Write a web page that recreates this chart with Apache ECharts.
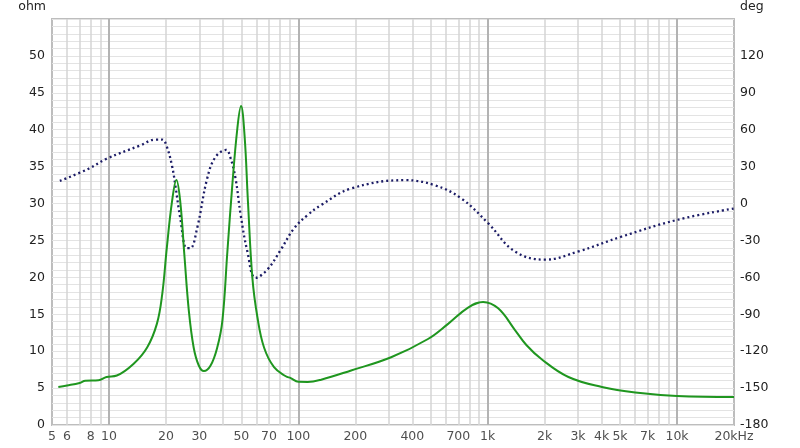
<!DOCTYPE html>
<html>
<head>
<meta charset="utf-8">
<script src="https://cdn.jsdelivr.net/npm/echarts@6/dist/echarts.min.js"></script>
<style>html,body{margin:0;padding:0;background:#fff}#c{width:800px;height:448px}</style>
</head>
<body>
<div id="c"></div>
<script>
// Impedance magnitude (ohm) vs frequency (Hz)
const impFreq = [5.4, 6.0, 7.0, 7.5, 8.8, 9.7, 11, 13.5, 15.9, 17.9, 19.1, 20.2, 21.5, 22.7, 23.8, 25, 26.4, 28, 29.8, 31.7, 34.4, 37.3, 39.7, 42.2, 44.8, 47.6, 49.8, 52, 54.2, 57.2, 60.8, 65.9, 74.4, 85.9, 91.2, 100, 112, 132, 190, 309, 484, 618, 788, 946, 1136, 1391, 1605, 1928, 2670, 4010, 6020, 10000, 20000];
const impOhm = [5.15, 5.35, 5.7, 6.0, 6.05, 6.5, 6.7, 8.3, 10.5, 13.7, 17.7, 24, 30.2, 33.2, 30.2, 23.1, 15.5, 10.5, 8.06, 7.3, 8.06, 10.5, 14.1, 23.5, 32.5, 40.1, 43.2, 39.2, 30.2, 19.9, 14.6, 10.5, 7.84, 6.6, 6.36, 5.85, 5.83, 6.14, 7.39, 9.18, 11.65, 13.7, 15.9, 16.67, 15.8, 12.9, 10.8, 8.9, 6.5, 5.15, 4.4, 3.94, 3.8];
// Phase (deg) vs frequency (Hz)
const phaseFreq = [5.5, 7.8, 9.7, 14.6, 17.6, 19.1, 20.1, 21.5, 22.4, 23.8, 25.7, 26.9, 29.2, 33, 36.5, 41.6, 43.7, 46.6, 49.6, 53.8, 59.5, 68.7, 80.8, 95, 112, 132, 190, 364, 525, 726, 1006, 1391, 2008, 3018, 5116, 10000, 20000];
const phaseDeg = [18.4, 28.3, 36.4, 47.2, 52, 52, 47.2, 31, 14.9, -12, -36.2, -36.2, -20.1, 20.3, 37.8, 43.6, 37.8, 20.3, -9.3, -38.9, -60.4, -53.6, -37.5, -20.1, -9.3, -1.2, 12.2, 19, 14.9, 4.1, -16, -38.9, -45.6, -38.9, -26.8, -13.3, -4];
// Axis ticks
const minorGridFreqs = [6, 7, 8, 9, 20, 30, 40, 50, 60, 70, 80, 90, 200, 300, 400, 500, 600, 700, 800, 900, 2000, 3000, 4000, 5000, 6000, 7000, 8000, 9000];
const majorGridFreqs = [10, 100, 1000, 10000];
const xTickFreqs = [5, 6, 8, 10, 20, 30, 50, 70, 100, 200, 400, 700, 1000, 2000, 3000, 4000, 5000, 7000, 10000, 20000];
const xTickLabels = ['5', '6', '8', '10', '20', '30', '50', '70', '100', '200', '400', '700', '1k', '2k', '3k', '4k', '5k', '7k', '10k', '20kHz'];

const FONT = 'DejaVu Sans';
const chart = echarts.init(document.getElementById('c'));
chart.setOption({
  animation: false,
  backgroundColor: '#fff',
  grid: { left: 52, right: 66, top: 17, bottom: 23, show: true, borderColor: '#bdbdbd', borderWidth: 2, backgroundColor: 'transparent' },
  xAxis: {
    type: 'log', logBase: 10, min: 5, max: 20000,
    axisLine: { show: false }, axisTick: { show: false }, axisLabel: { show: false }, splitLine: { show: false }
  },
  yAxis: [
    {
      type: 'value', min: 0, max: 55, interval: 5, position: 'left',
      name: 'ohm', nameLocation: 'end', nameGap: 6,
      nameTextStyle: { fontFamily: FONT, fontSize: 12.5, color: '#222', align: 'right', padding: [0, 6, 0, 0] },
      axisLine: { show: false }, axisTick: { show: false },
      axisLabel: { fontFamily: FONT, fontSize: 12.5, color: '#222', margin: 7, formatter: v => v === 55 ? '' : String(v) },
      splitLine: { show: true, lineStyle: { color: '#e3e3e3', width: 1 } },
      minorTick: { show: false, splitNumber: 5 },
      minorSplitLine: { show: true, lineStyle: { color: '#e3e3e3', width: 1 } }
    },
    {
      type: 'value', min: -180, max: 150, interval: 30, position: 'right',
      name: 'deg', nameLocation: 'end', nameGap: 6,
      nameTextStyle: { fontFamily: FONT, fontSize: 12.5, color: '#222', align: 'left', padding: [0, 0, 0, 6] },
      axisLine: { show: false }, axisTick: { show: false },
      axisLabel: { fontFamily: FONT, fontSize: 12.5, color: '#222', margin: 6, formatter: v => v === 150 ? '' : String(v) },
      splitLine: { show: false }
    }
  ],
  series: [
    {
      name: 'grid', type: 'line', data: [], z: 1, silent: true,
      markLine: {
        silent: true, symbol: 'none', z: 1, animation: false,
        label: { show: false },
        emphasis: { disabled: true },
        data: minorGridFreqs.map(f => ({ xAxis: f, lineStyle: { color: '#d5d5d5', width: 1.5, type: 'solid' } }))
          .concat(majorGridFreqs.map(f => ({ xAxis: f, lineStyle: { color: '#b3b3b3', width: 2, type: 'solid' } })))
      }
    },
    {
      name: 'xlabels', type: 'scatter', yAxisIndex: 0, z: 5, silent: true, clip: false,
      data: xTickFreqs.map((f, i) => ({ value: [f, 0], label: { formatter: xTickLabels[i] } })),
      symbolSize: 1,
      itemStyle: { color: 'rgba(0,0,0,0)' },
      label: { show: true, position: 'bottom', distance: 5, fontFamily: FONT, fontSize: 12.5, color: '#222' }
    },
    {
      name: 'Phase', type: 'line', yAxisIndex: 1, z: 3,
      data: phaseFreq.map((f, i) => [f, phaseDeg[i]]),
      smooth: 0.4, showSymbol: false, symbol: 'none',
      lineStyle: { color: '#1c1c66', width: 2.3, type: [2, 3], cap: 'butt' }
    },
    {
      name: 'Impedance', type: 'line', yAxisIndex: 0, z: 4,
      data: impFreq.map((f, i) => [f, impOhm[i]]),
      smooth: 0.4, showSymbol: false, symbol: 'none',
      lineStyle: { color: '#1f961f', width: 2 }
    }
  ]
});
</script>
</body>
</html>
